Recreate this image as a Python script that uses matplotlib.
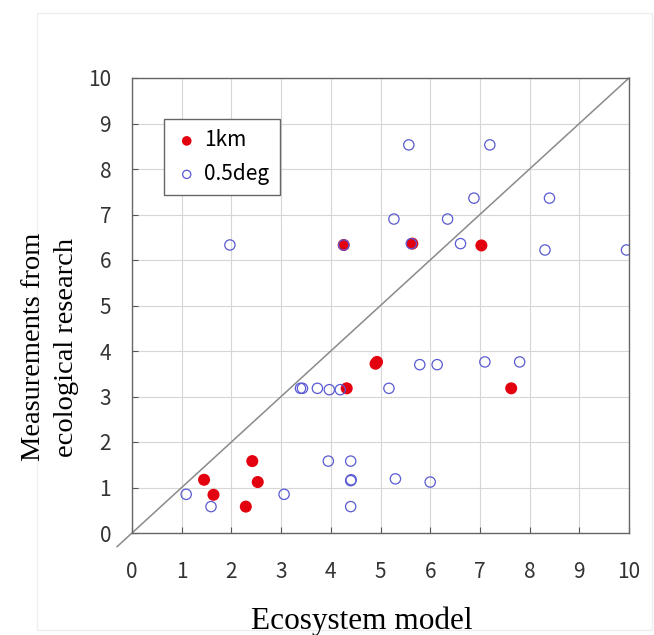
import matplotlib.pyplot as plt
from matplotlib.patches import Rectangle

# 1km resolution results
km_x = [1.45, 1.64, 2.29, 2.42, 2.53, 4.26, 4.32, 4.90, 4.93, 5.64, 7.03, 7.63]
km_y = [1.17, 0.84, 0.58, 1.58, 1.12, 6.33, 3.18, 3.72, 3.76, 6.36, 6.32, 3.18]

# 0.5 degree resolution results
deg_x = [1.09, 1.59, 1.97, 3.06, 3.39, 3.43, 3.73, 3.97, 3.95, 4.19, 4.26,
         4.40, 4.40, 4.41, 4.40, 5.17, 5.27, 5.30, 5.57, 5.62, 5.79, 6.00,
         6.14, 6.35, 6.61, 6.88, 7.10, 7.20, 7.80, 8.31, 8.40, 9.95]
deg_y = [0.85, 0.58, 6.33, 0.85, 3.18, 3.18, 3.18, 3.15, 1.58, 3.15, 6.33,
         1.58, 1.15, 1.17, 0.58, 3.18, 6.90, 1.19, 8.53, 6.36, 3.70, 1.12,
         3.70, 6.90, 6.36, 7.36, 3.76, 8.53, 3.76, 6.22, 7.36, 6.22]

ticks = list(range(0, 11))

fig = plt.figure(figsize=(6.54, 6.35), dpi=100)
ax = fig.add_axes([132 / 654, 1 - 533 / 635, 497 / 654, 455 / 635])

# faint outer frame
fig.patches.append(Rectangle((37 / 654, 5 / 635), 1 - 37 / 654 - 2 / 654, 1 - 18 / 635,
                             transform=fig.transFigure, fill=False,
                             edgecolor="#eeeeee", linewidth=1))

ax.plot([-0.3, 10], [-0.3, 10], color="#8a8a8a", linewidth=1.1, clip_on=False, zorder=2)

ax.scatter(km_x, km_y, s=75, color="#e3000f", edgecolors="none", label="1km", zorder=3)
ax.scatter(deg_x, deg_y, s=55, facecolors="none", edgecolors="#5a5ad2",
           linewidths=0.9, label="0.5deg", zorder=4)

ax.set_xlim(0, 10)
ax.set_ylim(0, 10)
ax.set_xticks(ticks)
ax.set_yticks(ticks)
ax.grid(True, color="#d6d6d6", linewidth=0.8)
ax.set_axisbelow(True)

for sp in ax.spines.values():
    sp.set_color("#666666")
    sp.set_linewidth(1.0)

tick_font = ["Noto Sans CJK JP", "DejaVu Sans"]
ax.tick_params(axis="x", direction="in", length=4, color="#555555", pad=20,
               labelsize=15, labelcolor="#333333")
ax.tick_params(axis="y", direction="in", length=4, color="#555555", pad=15,
               labelsize=15, labelcolor="#333333")
for lab in ax.get_xticklabels() + ax.get_yticklabels():
    lab.set_family(tick_font)

leg = ax.legend(loc="upper left", bbox_to_anchor=(0.064, 0.91), borderaxespad=0,
                frameon=True, fancybox=False, edgecolor="#666666", framealpha=1,
                prop={"family": tick_font, "size": 15},
                handletextpad=0.25, borderpad=0.5, labelspacing=0.55,
                handlelength=1.2, markerscale=0.8)
leg.get_frame().set_linewidth(1.0)

fig.text(362 / 654, 1 - 621 / 635, "Ecosystem model", ha="center", va="center",
         family="Liberation Serif", fontsize=22.5)
fig.text(50 / 654, 1 - 347 / 635, "Measurements from\necological research",
         ha="center", va="center", rotation=90, linespacing=1.45,
         family="Liberation Serif", fontsize=20.5)

fig.savefig("out.png", dpi=100)
